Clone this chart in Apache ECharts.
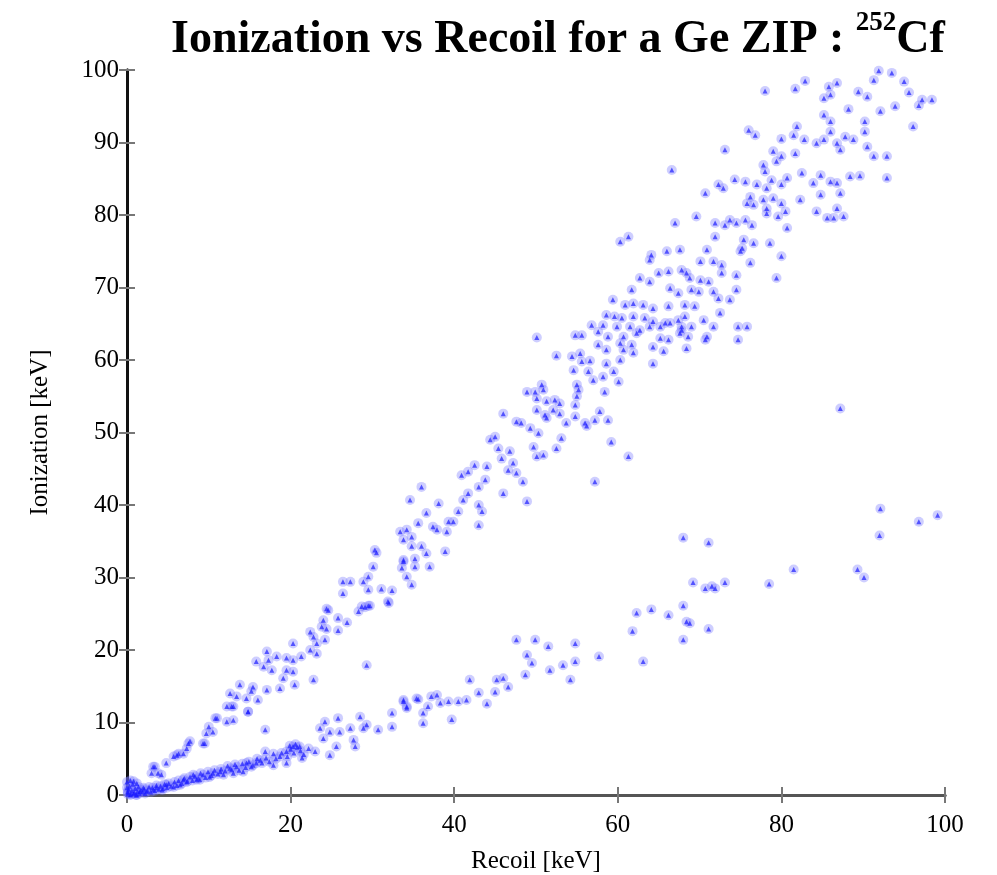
<!DOCTYPE html>
<html>
<head>
<meta charset="utf-8">
<script src="https://cdn.jsdelivr.net/npm/echarts@6/dist/echarts.min.js"></script>
<style>html,body{margin:0;padding:0;background:#fff}#c{width:997px;height:875px}</style>
</head>
<body>
<div id="c"></div>
<script>
// Axis ticks
const xTicks = [0, 20, 40, 60, 80, 100];
const yTicks = [0, 10, 20, 30, 40, 50, 60, 70, 80, 90, 100];

// Electron-recoil band (upper band): [recoil keV, ionization keV]
const electronRecoils = [
[78.0,97.1],[81.7,97.4],[82.9,98.5],[85.8,97.7],[86.8,98.2],[86.0,96.6],[85.2,96.1],[89.4,97.0],[90.5,96.3],[91.3,98.6],
[91.9,99.9],[93.5,99.6],[95.0,98.4],[95.6,96.9],[97.2,95.9],[98.4,95.9],[96.8,95.1],[93.9,95.0],[92.1,94.3],[88.2,94.6],
[85.2,93.8],[86.0,92.9],[90.2,92.9],[96.1,92.2],[76.0,91.7],[76.8,91.0],[80.0,90.5],[81.9,92.2],[81.5,91.0],[82.8,90.4],
[84.3,89.9],[85.2,90.4],[86.0,91.5],[86.8,89.9],[87.8,90.8],[88.8,90.4],[87.2,89.0],[90.5,89.4],[90.2,91.5],[91.3,88.1],
[92.9,88.1],[73.1,89.0],[79.0,88.8],[80.0,88.1],[81.7,88.5],[77.8,86.9],[79.4,87.4],[78.0,86.0],[66.6,86.2],[74.3,84.9],
[75.6,84.6],[77.0,84.2],[78.2,83.7],[78.8,84.8],[80.0,84.2],[80.7,85.1],[82.5,85.8],[83.9,84.4],[84.8,85.5],[86.0,84.6],
[86.8,84.4],[88.4,85.3],[89.6,85.4],[92.9,85.1],[72.3,84.2],[72.9,83.7],[70.7,83.0],[76.2,82.5],[75.8,81.6],[76.6,81.4],
[77.8,82.1],[79.0,82.3],[80.0,81.6],[78.2,80.9],[80.5,80.5],[82.3,82.1],[84.8,82.8],[87.2,83.0],[84.3,80.5],[86.8,80.9],
[85.6,79.6],[86.4,79.6],[87.6,79.8],[78.2,80.2],[79.6,79.8],[69.6,79.8],[67.0,78.9],[71.9,78.9],[73.1,78.6],[73.7,79.3],
[74.5,78.9],[75.6,79.3],[76.4,78.6],[80.7,78.2],[71.9,77.0],[75.4,76.6],[76.6,76.1],[78.6,76.1],[60.3,76.3],[61.3,77.0],
[64.1,74.5],[63.9,73.8],[66.0,75.0],[67.6,75.2],[70.9,75.2],[75.0,75.0],[75.2,75.4],[80.0,74.3],[70.1,73.6],[71.7,73.6],
[72.7,73.1],[76.2,73.4],[79.4,71.3],[62.7,71.3],[63.9,70.8],[65.0,72.0],[66.2,72.2],[67.8,72.4],[68.4,72.0],[68.8,71.3],
[70.1,71.0],[71.1,70.8],[72.7,72.0],[74.5,71.7],[61.7,69.7],[66.4,69.9],[67.4,69.2],[69.0,69.7],[69.9,69.4],[71.7,69.4],
[72.3,68.5],[73.7,68.3],[74.5,69.7],[59.4,68.3],[60.9,67.6],[61.9,67.8],[63.1,67.6],[64.3,67.1],[66.2,67.4],[68.2,67.6],
[69.4,67.4],[72.5,66.5],[58.6,66.2],[59.6,66.0],[60.5,65.8],[61.9,66.0],[63.3,65.8],[64.3,65.3],[65.8,65.1],[67.4,65.5],
[68.2,66.0],[70.5,65.5],[71.7,64.6],[58.2,64.8],[59.9,64.6],[61.5,64.6],[62.7,64.1],[63.9,64.6],[65.2,64.6],[66.4,65.1],
[67.8,64.6],[69.0,64.6],[67.6,63.7],[68.6,63.2],[66.2,62.8],[65.2,63.0],[62.3,63.7],[60.7,63.2],[58.8,63.2],[60.3,62.3],
[61.7,62.1],[58.6,61.4],[60.7,61.4],[61.9,61.0],[64.3,61.8],[65.6,61.2],[68.4,61.6],[70.7,62.8],[74.7,64.6],[75.8,64.6],
[74.7,62.8],[67.8,64.1],[70.9,63.2],
[56.8,64.8],[50.1,63.1],[54.8,63.4],[55.6,63.4],[57.6,63.9],[52.5,60.6],[54.4,60.5],[55.4,60.9],[55.6,59.8],[56.6,59.9],
[54.6,58.6],[56.4,58.4],[57.6,62.1],[57.0,57.2],[58.2,57.7],[58.6,59.5],[59.5,58.4],[60.1,57.0],[60.3,60.0],[64.3,59.5],
[58.4,55.6],[50.7,56.6],[48.9,55.6],[49.9,55.6],[50.9,55.9],[50.1,54.7],[51.3,54.3],[52.3,54.5],[52.9,54.0],[55.0,56.6],
[55.2,55.9],[55.0,55.0],[54.8,53.8],[50.1,53.1],[51.1,52.4],[52.1,53.1],[52.9,52.6],[51.3,52.0],[47.6,51.5],[48.2,51.3],
[49.3,50.6],[50.3,49.9],[53.7,51.3],[54.8,52.2],[56.0,51.3],[56.2,50.9],[57.2,51.7],[57.8,52.9],[58.8,51.7],[46.0,52.6],
[45.0,49.4],[44.4,49.0],[45.4,47.8],[46.8,47.4],[45.8,46.4],[49.7,48.0],[50.1,46.7],[50.9,46.9],[52.5,47.8],[53.1,49.2],
[47.2,45.8],[46.6,44.8],[47.6,44.4],[48.4,43.2],[42.5,45.5],[44.0,45.3],[41.7,44.6],[40.9,44.1],[43.8,43.5],[43.0,42.5],
[41.7,41.6],[41.1,40.7],[46.0,41.6],[48.9,40.5],[43.0,40.0],[43.4,39.1],[40.5,39.1],[39.9,37.7],[39.3,37.7],[38.1,40.2],
[36.0,42.5],[34.6,40.7],[36.6,38.9],[35.6,37.5],[37.9,36.6],[39.1,36.3],[43.0,37.2],[37.4,37.0],[34.2,36.6],[33.8,35.2],
[34.8,35.6],[34.8,34.3],[36.0,34.3],[36.6,33.3],[38.9,33.6],[35.2,32.6],[33.8,32.2],[33.6,31.3],[35.2,31.5],[37.0,31.5],
[34.2,30.1],[34.8,29.0],[59.2,48.7],[61.3,46.7],[57.2,43.2],
[33.4,36.3],[30.5,33.4],[30.3,33.8],[30.1,31.5],[29.5,30.1],[26.4,29.4],[27.3,29.4],[28.9,29.4],[26.4,27.8],[29.5,28.3],
[31.1,28.4],[32.4,28.2],[31.9,26.7],[24.4,25.7],[28.7,26.0],[29.5,26.1],[33.8,32.4],
[24.6,25.5],[25.8,24.4],[26.9,23.8],[28.3,25.3],[29.1,25.9],[29.7,26.1],[32.0,26.5],[24.0,24.1],[23.8,23.2],[24.4,22.9],
[25.8,22.7],[22.4,22.5],[22.8,21.8],[23.2,20.9],[24.2,21.4],[20.3,20.9],[19.5,18.9],[20.3,18.6],[21.3,19.1],[22.4,20.0],
[23.2,19.5],[17.1,19.8],[17.3,18.6],[18.3,19.1],[15.8,18.4],[16.7,17.7],[17.7,17.2],[19.5,17.2],[20.3,17.0],[19.1,16.1],
[18.7,14.7],[20.5,15.2],[22.8,15.9],[29.3,17.9],[13.8,15.2],[15.4,14.9],[17.1,14.5],[12.6,14.0],[13.4,13.6],[14.6,13.3],
[15.2,14.3],[16.0,13.1],[12.2,12.2],[13.0,12.2],[14.8,11.5],[11.0,10.6],[12.2,10.1],[13.0,10.3],[10.0,9.4],[9.7,8.5],
[10.5,8.7],[9.5,7.1],[7.7,7.4],[7.3,6.4],[6.3,5.7],[5.7,5.3],[6.9,5.7],[4.8,4.4],[3.2,3.9],[3.8,3.0],
[3.0,3.0],[4.2,2.8],[16.9,9.0],[3.4,3.9],[6.1,5.5],[7.5,7.1],[9.3,7.1],[10.8,10.6],[12.8,12.2],[14.8,11.5]
];

// Nuclear-recoil band (lower band): [recoil keV, ionization keV]
const nuclearRecoils = [
[23.6,9.2],[24.2,10.1],[25.8,10.6],[24.8,8.7],[26.0,8.7],[27.3,9.2],[28.5,10.8],[28.9,9.2],[30.7,9.0],[32.4,9.4],
[32.4,11.3],[33.8,13.1],[34.2,12.0],[35.4,13.3],[24.0,7.8],[25.6,6.7],[27.7,7.6],[27.9,6.7],[29.3,9.7],[24.8,5.5],
[23.0,6.0],[21.4,5.1],[20.3,6.7],[21.1,6.7],[19.5,6.0],[18.7,5.3],[17.9,5.7],[16.9,6.0],[15.8,4.4],[14.6,4.4],
[13.4,3.9],[12.6,3.7],[11.4,3.2],[10.1,2.5],[8.9,2.1],[8.1,2.8],[7.3,1.8],[6.5,1.4],[5.7,1.1],[4.4,0.9],
[3.2,0.7],[2.4,0.5],[1.6,0.5],[0.8,0.2],[0.1,0.5],[0.1,0.1],[0.4,0.0],[19.5,4.4],[17.9,4.1],[16.3,4.8],
[15.2,3.9],[14.2,3.2],[13.0,3.0],[11.8,2.8],[10.5,3.0],[9.3,2.8],[8.5,2.1],[6.9,2.1],[4.8,1.4],[3.6,1.0],
[2.0,1.0],[1.2,0.0],
[69.2,29.3],[68.0,35.5],[68.0,26.1],[62.3,25.1],[64.1,25.6],[66.2,24.8],[68.4,23.9],[61.8,22.6],[68.0,21.4],[63.1,18.4],
[57.7,19.1],[54.8,20.9],[54.8,18.4],[53.3,17.9],[54.2,15.9],[51.7,17.2],[51.5,20.5],[49.9,21.4],[47.6,21.4],[48.9,19.3],
[49.5,18.2],[48.7,16.6],[46.6,14.9],[46.0,16.1],[45.2,15.9],[45.0,14.2],[44.0,12.6],[43.0,14.1],[41.9,15.9],[41.5,13.1],
[40.5,12.9],[39.7,10.4],[39.3,12.9],[38.3,12.7],[37.9,13.8],[37.2,13.6],[36.8,12.2],[36.2,11.3],[36.2,9.9],[35.6,13.2],
[34.2,12.2],[33.8,12.9],
[87.2,53.3],[92.1,39.5],[92.0,35.8],[96.8,37.7],[99.1,38.6],[71.1,34.8],[70.7,28.5],[71.5,28.8],[71.9,28.5],[73.1,29.3],
[78.5,29.1],[81.5,31.1],[89.3,31.1],[90.1,30.0],[71.1,22.9],[68.8,23.7],
[0.1,0.3],[0.2,0.8],[0.3,1.2],[0.5,0.1],[0.6,0.6],[0.7,1.5],[0.9,0.3],[1.0,0.9],[1.1,0.0],[1.3,0.5],
[1.4,1.1],[1.5,0.2],[1.7,0.7],[1.9,0.4],[2.1,0.8],[2.2,0.2],[2.5,0.6],[2.7,1.1],[2.9,0.4],[3.1,1.0],
[3.4,0.6],[3.6,1.3],[3.9,0.8],[4.1,1.2],[4.3,0.7],[4.6,1.5],[4.9,1.0],[5.1,1.6],[5.4,1.2],[5.8,1.8],
[6.1,1.3],[6.3,2.0],[6.7,1.6],[7.0,2.3],[7.4,1.9],[7.7,2.5],[8.0,2.0],[8.3,2.6],[8.7,2.3],[9.0,3.0],
[9.6,2.4],[9.9,3.2],[10.3,2.7],[10.7,3.4],[11.1,2.9],[11.5,3.6],[12.0,3.3],[12.3,4.0],[12.8,3.5],[13.2,4.2],
[13.7,3.4],[14.1,4.3],[14.5,3.8],[14.9,4.6],[15.4,4.1],[15.9,5.0],[16.5,4.4],[17.0,5.1],[17.4,4.6],[18.2,5.0],
[18.9,5.8],[19.6,5.3],[20.0,6.3],[20.4,5.8],[20.8,6.6],[21.2,6.1],[20.6,7.0],[19.9,6.8],[21.6,5.6],[22.2,6.4],
[0.0,1.8],[0.0,1.0],[0.4,2.0],[0.8,1.9],[1.2,1.6]
];

const titleMain = 'Ionization vs Recoil for a Ge ZIP : ';
const titleIsotope = '252';
const titleElement = 'Cf';
const xName = 'Recoil [keV]';
const yName = 'Ionization [keV]';

const serif = '"Liberation Serif", "DejaVu Serif", serif';
const chart = echarts.init(document.getElementById('c'));

const gridBox = { left: 127, top: 70, width: 818, height: 725, containLabel: false, outerBoundsMode: 'none' };
const tickLen = 8;

function axisBase(extra) {
  return Object.assign({
    type: 'value', min: 0, max: 100,
    splitLine: { show: false },
    axisTick: { show: true, inside: true, length: tickLen, lineStyle: { color: '#777', width: 2 } },
    axisLabel: { fontFamily: serif, fontSize: 25, color: '#000' }
  }, extra);
}

const haloStyle = { color: 'rgba(120,120,255,0.45)' };
const coreStyle = { color: 'rgba(25,25,255,0.85)' };

chart.setOption({
  animation: false,
  backgroundColor: '#fff',
  title: {
    text: '{m|' + titleMain + '}{s|' + titleIsotope + '}{m|' + titleElement + '}',
    left: 166, top: 2,
    textStyle: {
      rich: {
        m: { fontFamily: serif, fontSize: 46, fontWeight: 'bold', color: '#000', lineHeight: 56, verticalAlign: 'bottom' },
        s: { fontFamily: serif, fontSize: 27, fontWeight: 'bold', color: '#000', lineHeight: 27, verticalAlign: 'bottom', padding: [0, 0, 26, 0] }
      }
    }
  },
  grid: gridBox,
  xAxis: [
    axisBase({
      interval: 20, position: 'bottom',
      name: xName, nameLocation: 'middle', nameGap: 54,
      nameTextStyle: { fontFamily: serif, fontSize: 25, color: '#000' },
      axisLine: { show: true, lineStyle: { color: '#555', width: 3 } },
      axisLabel: { fontFamily: serif, fontSize: 25, color: '#000', margin: 18 }
    }),
    axisBase({
      interval: 20, position: 'top',
      axisLine: { show: true, lineStyle: { color: '#555', width: 3 } },
      axisLabel: { show: false }
    })
  ],
  yAxis: [
    axisBase({
      interval: 10, position: 'left',
      name: yName, nameLocation: 'middle', nameGap: 74, nameRotate: 90,
      nameTextStyle: { fontFamily: serif, fontSize: 25, color: '#000' },
      axisLine: { show: true, lineStyle: { color: '#111', width: 3 } },
      axisLabel: { fontFamily: serif, fontSize: 25, color: '#000', margin: 8 }
    }),
    axisBase({
      interval: 10, position: 'right',
      axisLine: { show: true, lineStyle: { color: '#111', width: 3 } },
      axisLabel: { show: false }
    })
  ],
  series: [
    { type: 'scatter', data: electronRecoils, symbol: 'circle', symbolSize: 10, itemStyle: haloStyle, silent: true },
    { type: 'scatter', data: nuclearRecoils, symbol: 'circle', symbolSize: 10, itemStyle: haloStyle, silent: true },
    { type: 'scatter', data: electronRecoils, symbol: 'triangle', symbolSize: 5, itemStyle: coreStyle, silent: true },
    { type: 'scatter', data: nuclearRecoils, symbol: 'triangle', symbolSize: 5, itemStyle: coreStyle, silent: true }
  ]
});
</script>
</body>
</html>
